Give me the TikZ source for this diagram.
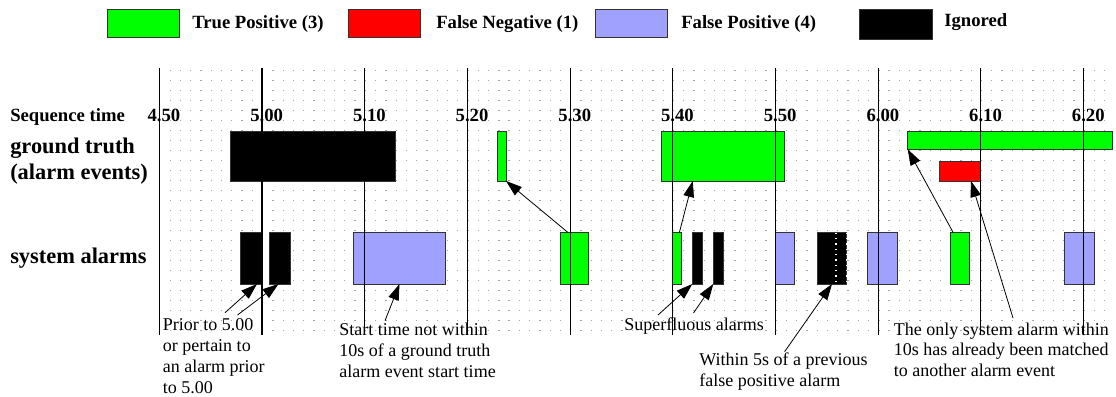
\documentclass[tikz,border=0pt]{standalone}
\usepackage{fontspec}
\setmainfont{Liberation Serif}
\usetikzlibrary{arrows.meta}
\definecolor{tpgreen}{RGB}{0,255,0}
\definecolor{fnred}{RGB}{255,0,0}
\definecolor{fpblue}{RGB}{160,160,255}
\definecolor{griddot}{RGB}{165,165,165}
\tikzset{
  >={Triangle[length=12pt,width=8pt]},
  evbox/.style={draw=black!80, line width=0.7pt, inner sep=0pt, outer sep=0pt},
  tp/.style={evbox, fill=tpgreen},
  fn/.style={evbox, fill=fnred},
  fp/.style={evbox, fill=fpblue},
  ig/.style={evbox, fill=black},
  legtext/.style={anchor=base west, inner sep=0pt, font=\bfseries\fontsize{14}{17}\selectfont},
  timelabel/.style={anchor=base, inner sep=0pt, font=\bfseries\fontsize{14}{17}\selectfont},
  rowlabel/.style={anchor=base west, inner sep=0pt, align=left, font=\bfseries\fontsize{16.8}{19.5}\selectfont},
  note/.style={anchor=base west, inner sep=0pt, align=left, font=\fontsize{13.5}{15.6}\selectfont},
  pointer/.style={->, line width=0.6pt},
  whitedots/.style={white, line width=0.8pt, dash pattern=on 1pt off 3pt},
}
% box from x1 to x2 and y1 to y2 (pixels)
\newcommand{\evnode}[6]{%
  \node[#1, minimum width={(#4-#3)*0.75pt}, minimum height={(#6-#5)*0.75pt}] (#2) at ({(#3+#4)/2},{(#5+#6)/2}) {};}
\begin{document}
\begin{tikzpicture}[x=0.75pt,y=-0.75pt]
  \useasboundingbox (0,0) rectangle (1116,396);
  % legend
  \evnode{tp}{lgtp}{107}{179}{9}{37.7}
  \evnode{fn}{lgfn}{348}{420}{9}{37.7}
  \evnode{fp}{lgfp}{595}{667}{9.3}{37.7}
  \evnode{ig}{lgig}{859}{932}{9.7}{39.3}
  \draw (192,28) node[legtext] (ltp) {True Positive (3)};
  \draw (436,28) node[legtext] (lfn) {False Negative (1)};
  \draw (681,28) node[legtext] (lfp) {False Positive (4)};
  \draw (944,26.5) node[legtext] (lig) {Ignored};
  % grid of dots
  \foreach \c in {1,...,92}
    \foreach \r in {0,...,26}
      \fill[griddot] ({159.3+10.27*\c},{69.5+10*\r}) rectangle ++(1.3,1.3);
  % row labels (base = last line)
  \draw (10,121) node[legtext] (seq) {Sequence time};
  \draw (10,179) node[rowlabel] (gt) {ground truth\\(alarm events)};
  \draw (10,263) node[rowlabel] (sys) {system alarms};
  % ground truth
  \evnode{ig}{gtig}{230.7}{395}{131}{181}
  \evnode{tp}{gttp1}{497.3}{506}{131}{181}
  \evnode{tp}{gttp2}{661.7}{784}{131}{181}
  \evnode{tp}{gttp3}{907.7}{1112}{131}{149.3}
  \evnode{fn}{gtfn}{939.3}{980}{161}{181}
  % system alarms
  \evnode{ig}{saig1}{240}{261}{232.7}{284}
  \evnode{ig}{saig2}{269.6}{290}{232.7}{284}
  \evnode{fp}{safp1}{353.6}{445.4}{232.7}{284}
  \evnode{tp}{satp1}{560}{588.7}{232.7}{284}
  \evnode{tp}{satp2}{672.3}{681}{232.7}{284}
  \evnode{ig}{saig3}{692.3}{702.7}{232.7}{284}
  \evnode{ig}{saig4}{713.3}{723.3}{232.7}{284}
  \evnode{fp}{safp2}{775}{794.6}{232.7}{284}
  \evnode{ig}{saig5}{817.3}{846.7}{232.7}{284}
  \evnode{fp}{safp3}{867.3}{897.3}{232.7}{284}
  \evnode{tp}{satp3}{950}{969.3}{232.7}{284}
  \evnode{fp}{safp4}{1064}{1094.6}{232.7}{284}
  \draw[whitedots] ([xshift=3pt]saig5.north) -- ([xshift=3pt]saig5.south);
  \draw[whitedots] (saig5.north east) -- (saig5.south east);
  % time axis
  \foreach \k/\m/\s in {0/4/50,1/5/00,2/5/10,3/5/20,4/5/30,5/5/40,6/5/50,7/6/00,8/6/10,9/6/20} {
    \draw ({159.3+102.7*\k},121.5) node[timelabel] (lab\k) {\llap{\m}.\rlap{\s}};
    \draw[line width=0.8pt] ({159.3+102.7*\k},68) -- ({159.3+102.7*\k},335);
  }
  % notes (base = last line)
  \draw (162.5,393) node[note] (prior) {Prior to 5.00\\or pertain to\\an alarm prior\\to 5.00};
  \draw (339,377) node[note] (start) {Start time not within\\10s of a ground truth\\alarm event start time};
  \draw (624,330) node[note] (superf) {Superfluous alarms};
  \draw (699,386.7) node[note] (within) {Within 5s of a previous\\false positive alarm};
  \draw (893.5,376.7) node[note] (only) {The only system alarm within\\10s has already been matched\\to another alarm event};
  \coordinate (p1) at (225,312.7);
  \coordinate (p2) at (237.5,315);
  \coordinate (st) at (385,320.7);
  \coordinate (sf1) at (658,315);
  \coordinate (sf2) at (693.5,313);
  \coordinate (w5) at (784.6,351.7);
  \coordinate (on) at (1013,318);
  % pointers
  \draw[pointer] (p1) -- ([xshift=-3pt]saig1.south east);
  \draw[pointer] (p2) -- ([xshift=-1pt]saig2.south);
  \draw[pointer] (st) -- (safp1.south);
  \draw[pointer] ([xshift=-4.6pt]satp1.north) -- (gttp1.south east);
  \draw[pointer] ([xshift=2pt]satp2.north) -- ([xshift=-22.6pt]gttp2.south);
  \draw[pointer] (sf1) -- (saig3.south west);
  \draw[pointer] (sf2) -- (saig4.south west);
  \draw[pointer] (w5) -- (saig5.south);
  \draw[pointer] ([xshift=-4.8pt]satp3.north) -- (gttp3.south west);
  \draw[pointer] (on) -- ([xshift=-6.75pt]gtfn.south east);
\end{tikzpicture}
\end{document}
